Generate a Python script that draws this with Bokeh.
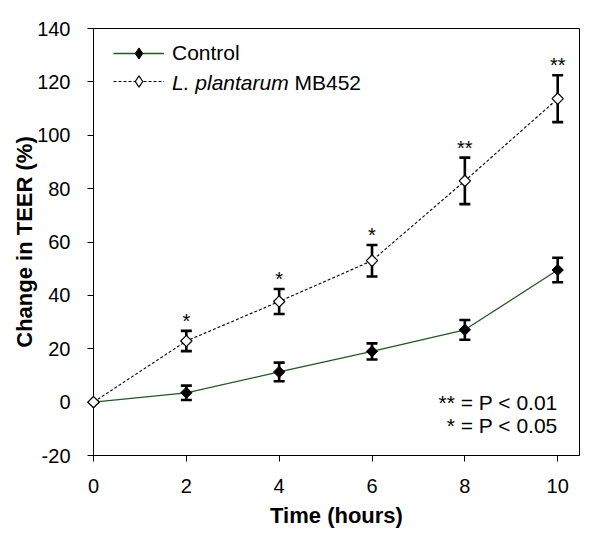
from bokeh.plotting import figure
from bokeh.models import (Range1d, FixedTicker, ColumnDataSource, Whisker, TeeHead,
                          Legend, LegendItem, Label)
from bokeh.core.properties import value
from bokeh.embed import file_html
from bokeh.resources import INLINE
import numpy as np

# ---- data ----
hours = [0, 2, 4, 6, 8, 10]
control = [0, 3.5, 11.3, 19.0, 27.1, 49.5]
control_err = [0, 2.7, 3.5, 3.0, 3.7, 4.6]
plantarum = [0, 22.9, 37.7, 53.0, 82.9, 113.7]
plantarum_err = [0, 3.8, 4.7, 5.9, 8.7, 8.8]
sig_hours = [2, 4, 6, 8, 10]
sig_marks = ["*", "*", "*", "**", "**"]
x_ticks = [0, 2, 4, 6, 8, 10]
y_ticks = [-20, 0, 20, 40, 60, 80, 100, 120, 140]
series_names = ["Control", "L. plantarum", "MB452"]
note_lines = ["** = P < 0.01", "* = P < 0.05"]

FONT = "Liberation Sans"
GREEN = "#1e5b1e"

p = figure(width=592, height=548, x_range=Range1d(0, 10.47), y_range=Range1d(-20, 140),
           output_backend="svg", toolbar_location=None,
           min_border_left=93, min_border_right=13, min_border_top=28, min_border_bottom=93)
p.background_fill_color = "white"
p.border_fill_color = "white"
p.outline_line_color = "black"
p.outline_line_width = 1
p.xgrid.visible = False
p.ygrid.visible = False

for ax in (p.xaxis[0], p.yaxis[0]):
    ax.axis_line_color = "black"
    ax.axis_line_width = 1
    ax.major_tick_line_color = "black"
    ax.major_tick_in = 0
    ax.major_tick_out = 6
    ax.minor_tick_line_color = None
    ax.major_label_text_font = FONT
    ax.major_label_text_font_size = "20px"
    ax.major_label_text_color = "black"
    ax.axis_label_text_font = FONT
    ax.axis_label_text_font_style = "bold"
    ax.axis_label_text_font_size = "22px"
    ax.axis_label_text_color = "black"

p.xaxis.ticker = FixedTicker(ticks=x_ticks)
p.yaxis.ticker = FixedTicker(ticks=y_ticks)
p.yaxis.major_label_overrides = {t: str(t) for t in y_ticks}
p.xaxis.axis_label = "Time (hours)"
p.yaxis.axis_label = "Change in TEER (%)"
p.xaxis.major_label_standoff = 17
p.xaxis.axis_label_standoff = 7
p.yaxis.major_label_standoff = 17
p.yaxis.axis_label_standoff = -3

src_c = ColumnDataSource(dict(x=hours, y=control,
                              lo=[v - e for v, e in zip(control, control_err)],
                              hi=[v + e for v, e in zip(control, control_err)]))
src_p = ColumnDataSource(dict(x=hours, y=plantarum,
                              lo=[v - e for v, e in zip(plantarum, plantarum_err)],
                              hi=[v + e for v, e in zip(plantarum, plantarum_err)]))

l_c = p.line("x", "y", source=src_c, line_color=GREEN, line_width=1.3)
l_p = p.line("x", "y", source=src_p, line_color="black", line_width=1.1, line_dash="3 2")

for src in (src_c, src_p):
    w = Whisker(base="x", lower="lo", upper="hi", source=src,
                line_color="black", line_width=2.6,
                upper_head=TeeHead(size=11, line_width=2.6, line_color="black"),
                lower_head=TeeHead(size=11, line_width=2.6, line_color="black"))
    w.level = "glyph"
    p.add_layout(w)

m_c = p.scatter("x", "y", source=src_c, marker="square", angle=np.pi / 4, size=8,
                fill_color="black", line_color="black", line_width=1)
m_p = p.scatter("x", "y", source=src_p, marker="square", angle=np.pi / 4, size=8,
                fill_color="white", line_color="black", line_width=1.2)
m_c.level = "overlay"
m_p.level = "overlay"

# legend-only diamond glyphs (no data drawn in the plot area)
key_c = p.scatter(x=[np.nan], y=[np.nan], marker="diamond", size=12,
                  fill_color="black", line_color="black", line_width=1)
key_p = p.scatter(x=[np.nan], y=[np.nan], marker="diamond", size=12,
                  fill_color="white", line_color="black", line_width=1.2)

sig_y = [plantarum[hours.index(h)] + plantarum_err[hours.index(h)] for h in sig_hours]
p.text(x=sig_hours, y=sig_y, text=sig_marks, text_align="center", text_baseline="alphabetic",
       text_font=value(FONT), text_font_size="20px", text_color="black", y_offset=-10)

p.add_layout(Label(x=10, y=0, text=note_lines[0], text_align="right", text_baseline="middle",
                   text_font=FONT, text_font_size="21px", text_color="black"))
p.add_layout(Label(x=10, y=-8.6, text=note_lines[1], text_align="right", text_baseline="middle",
                   text_font=FONT, text_font_size="21px", text_color="black"))

legend = Legend(items=[
    LegendItem(label=series_names[0], renderers=[l_c, key_c]),
    LegendItem(label=" ", renderers=[l_p, key_p]),
], location=(20, 360), glyph_width=51, glyph_height=28, spacing=0, padding=0, margin=0,
    label_standoff=8, label_text_font=FONT, label_text_font_size="21px",
    label_text_color="black", label_height=28,
    border_line_color=None, background_fill_alpha=0)
p.add_layout(legend)

# mixed-style label of the second legend entry: italic species name + strain
p.add_layout(Label(x=1.69, y=119.7, text=series_names[1], text_align="left",
                   text_baseline="middle", text_font=FONT, text_font_style="italic",
                   text_font_size="21px", text_color="black"))
p.add_layout(Label(x=4.33, y=119.7, text=series_names[2], text_align="left",
                   text_baseline="middle", text_font=FONT,
                   text_font_size="21px", text_color="black"))

open("out.html", "w").write(file_html(p, INLINE))
